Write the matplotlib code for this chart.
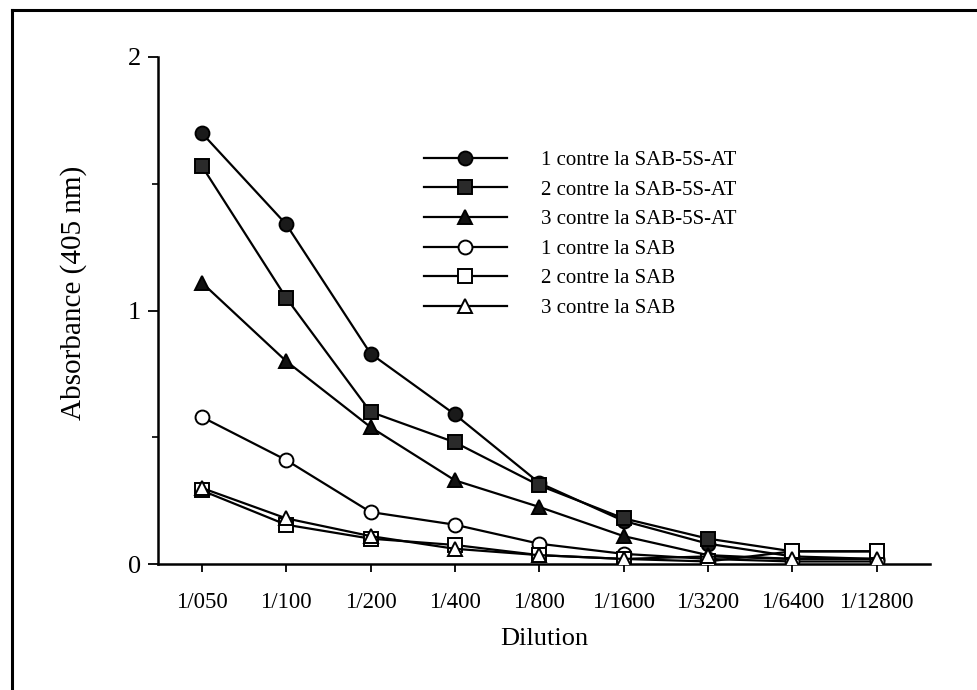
import numpy as np
import matplotlib
matplotlib.use("Agg")
import matplotlib.pyplot as plt
from matplotlib.lines import Line2D

# ---- data ----
dilutions = ["1/050", "1/100", "1/200", "1/400", "1/800", "1/1600", "1/3200", "1/6400", "1/12800"]

s1_at = [1.70, 1.34, 0.83, 0.59, 0.32, 0.17, 0.08, 0.03, 0.02]
s2_at = [1.57, 1.05, 0.60, 0.48, 0.31, 0.18, 0.10, 0.05, 0.05]
s3_at = [1.11, 0.80, 0.54, 0.33, 0.225, 0.11, 0.035, 0.02, 0.02]
s1_sab = [0.58, 0.41, 0.205, 0.155, 0.08, 0.04, 0.02, 0.01, 0.01]
s2_sab = [0.29, 0.155, 0.10, 0.075, 0.035, 0.02, 0.01, 0.05, 0.05]
s3_sab = [0.30, 0.18, 0.11, 0.06, 0.035, 0.02, 0.03, 0.02, 0.02]

labels = ["1 contre la SAB-5S-AT", "2 contre la SAB-5S-AT", "3 contre la SAB-5S-AT",
          "1 contre la SAB", "2 contre la SAB", "3 contre la SAB"]
series = [s1_at, s2_at, s3_at, s1_sab, s2_sab, s3_sab]
markers = ["o", "s", "^", "o", "s", "^"]
faces = ["#1a1a1a", "#2a2a2a", "#111111", "white", "white", "white"]

plt.rcParams["font.family"] = ["Liberation Serif", "DejaVu Serif"]

fig = plt.figure(figsize=(9.77, 6.9), dpi=100)
ax = fig.add_axes([0.1617, 0.1826, 0.79, 0.7348])

x = np.arange(len(dilutions))
handles = []
for vals, m, fc, lab in zip(series, markers, faces, labels):
    h, = ax.plot(x, vals, color="black", lw=1.6, marker=m, markersize=10,
                 markerfacecolor=fc, markeredgecolor="black", markeredgewidth=1.4,
                 label=lab, zorder=3)
    handles.append(h)

ax.set_xlim(-0.52, 8.63)
ax.set_ylim(0, 2)
ax.set_xticks(x)
ax.set_xticklabels(dilutions, fontsize=16.5)
ax.set_yticks([0, 1, 2])
ax.set_yticks([0.5, 1.5], minor=True)
ax.tick_params(axis="y", labelsize=19, direction="out", length=7, width=1.3, pad=5)
ax.tick_params(axis="y", which="minor", length=4, width=1.2)
ax.tick_params(axis="x", direction="out", length=6, width=1.3, pad=14)

for side in ["top", "right"]:
    ax.spines[side].set_visible(False)
for side in ["left", "bottom"]:
    ax.spines[side].set_linewidth(1.8)

ax.set_ylabel("Absorbance (405 nm)", fontsize=21)
ax.yaxis.set_label_coords(-0.092, 0.535)
ax.set_xlabel("Dilution", fontsize=19, labelpad=11)

fig.legend(handles=handles, loc="upper left", bbox_to_anchor=(0.425, 0.794),
           frameon=False, fontsize=15, handlelength=4.0, handletextpad=1.65,
           labelspacing=0.48, borderaxespad=0)

# outer frame of the scanned figure
frame_kw = dict(color="black", lw=2.2, transform=fig.transFigure)
fig.add_artist(Line2D([0.012, 0.012], [0.0, 0.986], **frame_kw))
fig.add_artist(Line2D([0.012, 1.0], [0.986, 0.986], **frame_kw))

fig.savefig("out.png", dpi=100)
